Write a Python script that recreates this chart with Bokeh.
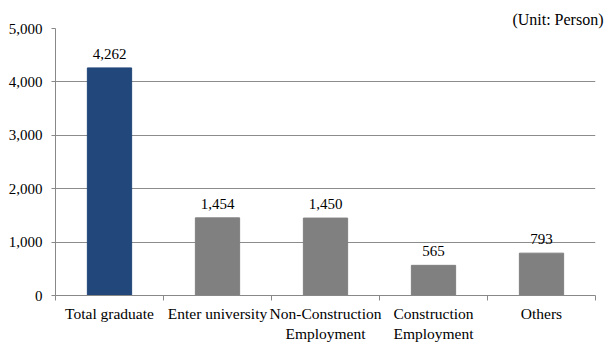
from bokeh.plotting import figure
from bokeh.models import ColumnDataSource, FixedTicker, NumeralTickFormatter, Range1d
from bokeh.core.properties import value
from bokeh.embed import file_html
from bokeh.resources import INLINE

categories = ["Total graduate", "Enter university", "Non-Construction\nEmployment",
              "Construction\nEmployment", "Others"]
values = [4262, 1454, 1450, 565, 793]
bar_colors = ["#22477A", "#808080", "#808080", "#808080", "#808080"]
value_labels = ["4,262", "1,454", "1,450", "565", "793"]
y_ticks = [0, 1000, 2000, 3000, 4000, 5000]
unit_text = "(Unit: Person)"

FONT = "Liberation Serif"
xs = [i + 0.5 for i in range(len(categories))]
src = ColumnDataSource(dict(x=xs, top=values, color=bar_colors, lab=value_labels))

p = figure(width=606, height=344, output_backend="svg", toolbar_location=None,
           x_range=Range1d(0, len(categories)), y_range=Range1d(0, 5000),
           min_border_left=55, min_border_right=11, min_border_top=28, min_border_bottom=49,
           title=unit_text)
p.title.align = "right"
p.title.offset = -8
p.title.standoff = 1
p.title.text_font = FONT
p.title.text_font_size = "16px"
p.title.text_font_style = "normal"
p.title.text_color = "black"
p.outline_line_color = None
p.background_fill_color = "white"
p.border_fill_color = "white"

p.vbar(x="x", top="top", width=0.41, color="color", source=src)
p.text(x="x", y="top", text="lab", source=src, text_align="center", text_baseline="bottom",
       y_offset=-9, text_font=value(FONT), text_font_size="15px", text_color="black")

# axes
xa = p.xaxis[0]
xa.ticker = FixedTicker(ticks=xs, minor_ticks=list(range(len(categories) + 1)))
xa.major_label_overrides = {x: c for x, c in zip(xs, categories)}
xa.major_tick_line_color = None
xa.minor_tick_out = 5
xa.minor_tick_in = 0
xa.minor_tick_line_color = "#888888"
xa.axis_line_color = "#888888"
xa.major_label_text_font = FONT
xa.major_label_text_font_size = "15.5px"
xa.major_label_text_color = "black"
xa.major_label_standoff = 3

ya = p.yaxis[0]
ya.ticker = FixedTicker(ticks=y_ticks)
ya.formatter = NumeralTickFormatter(format="0,0")
ya.major_tick_out = 4
ya.major_tick_in = 0
ya.minor_tick_line_color = None
ya.major_tick_line_color = "#888888"
ya.axis_line_color = "#888888"
ya.major_label_text_font = FONT
ya.major_label_text_font_size = "15px"
ya.major_label_text_color = "black"
ya.major_label_standoff = 9

p.xgrid.grid_line_color = None
p.ygrid.grid_line_color = "#8c8c8c"
p.ygrid.grid_line_width = 1

open("out.html", "w").write(file_html(p, INLINE))
